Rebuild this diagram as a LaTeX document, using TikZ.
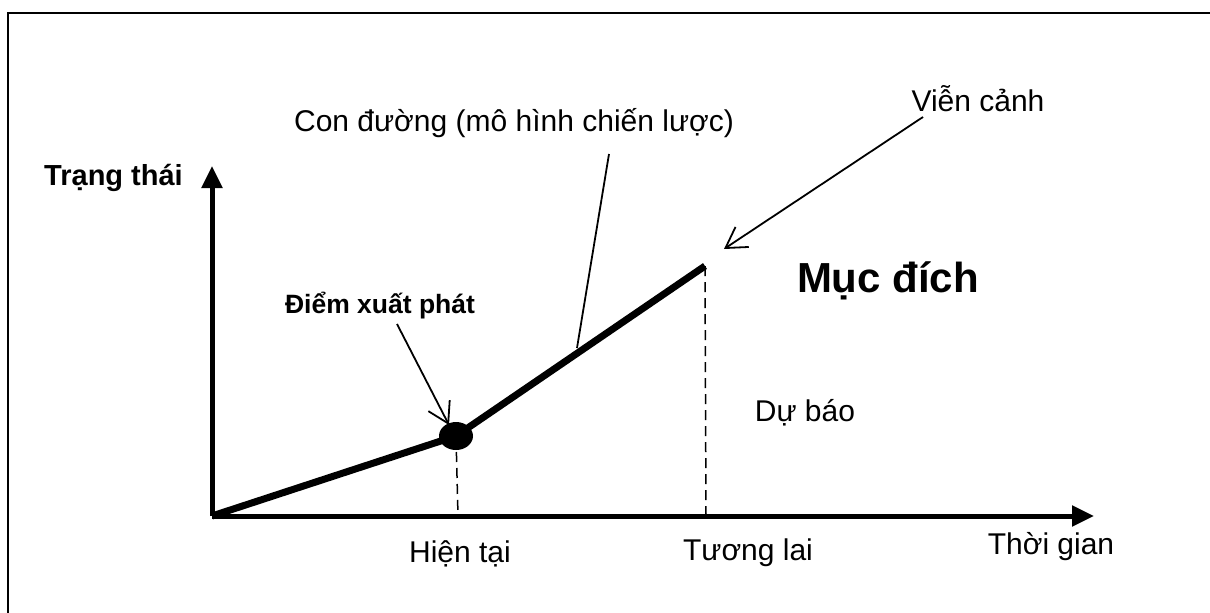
\documentclass[tikz,border=0pt]{standalone}
\usepackage{fontspec}
\setmainfont{Liberation Sans}
\usetikzlibrary{arrows.meta,shapes.geometric}
\begin{document}
\begin{tikzpicture}[x=1pt,y=-1pt,
  lbl/.style={inner sep=0pt,font=\fontsize{30}{35}\selectfont},
  blbl/.style={inner sep=0pt,font=\fontsize{29}{34}\selectfont\bfseries},
  axis/.style={line width=5pt,-{Triangle[length=22pt,width=20pt]}},
  route/.style={line width=7pt},
  guide/.style={line width=1.5pt,dash pattern=on 10pt off 6pt},
  leader/.style={line width=1.8pt},
  pointer/.style={line width=1.8pt,-{Straight Barb[length=20pt,width=24pt,line width=1.8pt]}}]
\useasboundingbox (0,0) rectangle (1210,613);
\draw[line width=2.5pt] (8,613) -- (8,13) -- (1210,13);
% points
\coordinate (O) at (212,516);
\coordinate (ytip) at (212,166);
\coordinate (xtip) at (1094,516);
\node[ellipse,fill=black,minimum width=34pt,minimum height=28pt,inner sep=0pt] (dot) at (456,436) {};
\coordinate (goal) at (705,266);
\coordinate (hx) at (458,516);
\coordinate (tx) at (706,516);
% dashed guides
\draw[guide] (dot.center) -- (hx);
\draw[guide] (goal) -- (tx);
% axes
\draw[axis] (O) -- (ytip);
\draw[axis] (O) -- (xtip);
% path
\draw[route,line cap=butt] (O) -- (dot.center) -- (goal);
% labels
\node[blbl,anchor=east] (trang) at (183,178) {Trạng thái};
\node[lbl] (con) at (514,123) {Con đường (mô hình chiến lược)};
\node[lbl] (vien) at (978,99) {Viễn cảnh};
\node[inner sep=0pt,font=\fontsize{42}{48}\selectfont\bfseries] (muc) at (888,281) {Mục đích};
\node[inner sep=0pt,font=\fontsize{26.5}{30}\selectfont\bfseries] (diem) at (380,306) {Điểm xuất phát};
\node[lbl] (du) at (805,413) {Dự báo};
\node[lbl] (hien) at (460,554) {Hiện tại};
\node[lbl] (tuong) at (748,553) {Tương lai};
\node[lbl] (thoi) at (1051,547) {Thời gian};
% leaders
\coordinate (conA) at (609,154);
\coordinate (conB) at (577,348);
\draw[leader] (conA) -- (conB);
\coordinate (vienA) at (923,117);
\coordinate (vienB) at (724,249);
\draw[pointer] (vienA) -- (vienB);
\coordinate (diemA) at (397,324);
\coordinate (diemB) at (449,425);
\draw[pointer] (diemA) -- (diemB);
\end{tikzpicture}
\end{document}
